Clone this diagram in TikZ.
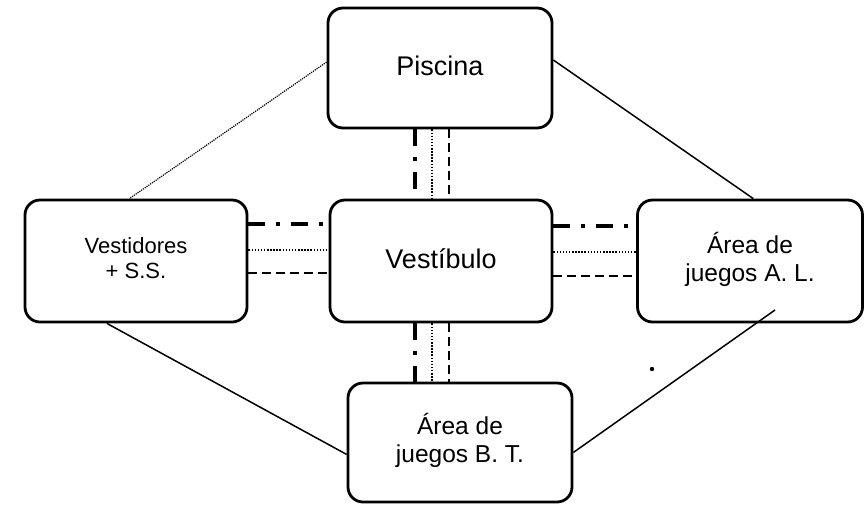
\documentclass[tikz,border=0pt]{standalone}
\usepackage{fontspec}
\setmainfont{Liberation Sans}
\setlength{\tabcolsep}{0pt}
\newcommand{\twolines}[2]{\begin{tabular}{c}#1\\#2\end{tabular}}
\begin{document}
\begin{tikzpicture}[x=1pt,y=-1pt,
  box/.style={draw, line width=2.8pt, rounded corners=15pt, inner sep=0pt, align=center, fill=white},
  bigtxt/.style={font=\fontsize{27}{31}\selectfont},
  midtxt/.style={font=\fontsize{24.5}{28}\selectfont},
  smalltxt/.style={font=\fontsize{22}{25}\selectfont},
  diag/.style={line width=1.5pt},
  fine/.style={line width=1.2pt, densely dotted},
  dashdotc/.style={line width=3.2pt, dash pattern=on 17pt off 11pt on 4pt off 11pt},
  dottedc/.style={line width=1.5pt, dash pattern=on 1.5pt off 1.6pt},
  dashedc/.style={line width=2.5pt, dash pattern=on 9pt off 5pt}
]
\useasboundingbox (0,0) rectangle (866,504);
% boxes
\node[box, bigtxt, minimum width=224pt, minimum height=120pt] (pis) at (440,68) {\raisebox{4pt}{Piscina}};
\node[box, smalltxt, minimum width=222pt, minimum height=122pt] (vst) at (136,261) {\raisebox{8pt}{\twolines{Vestidores}{+ S.S.}}};
\node[box, bigtxt, minimum width=222pt, minimum height=122pt] (ves) at (441,261) {\raisebox{4pt}{Vestíbulo}};
\node[box, midtxt, minimum width=225pt, minimum height=122pt] (al) at (750,261) {\raisebox{-6pt}{\twolines{Área de}{juegos A. L.}}};
\node[box, midtxt, minimum width=224pt, minimum height=119pt] (bt) at (460,442.5) {\raisebox{-4pt}{\twolines{Área de}{juegos B. T.}}};
% diagonals
\draw[fine] (pis.177) -- (vst.96);
\draw[diag] (pis.4) -- (al.87);
\draw[diag] (vst.245) -- (bt.186);
\coordinate (alin) at (775,310);
\draw[diag] (alin) -- (bt.-5);
% vertical connector positions
\coordinate (v1) at (415,0);
\coordinate (v2) at (432,0);
\coordinate (v3) at (449,0);
\draw[dashdotc] (v1 |- pis.south) -- (v1 |- ves.north);
\draw[dottedc] (v2 |- pis.south) -- (v2 |- ves.north);
\draw[dashedc] (v3 |- pis.south) -- (v3 |- ves.north);
\draw[dashdotc] (v1 |- ves.south) -- (v1 |- bt.north);
\draw[dottedc] (v2 |- ves.south) -- (v2 |- bt.north);
\draw[dashedc] (v3 |- ves.south) -- (v3 |- bt.north);
% horizontal connector positions
\coordinate (h1) at (0,224);
\coordinate (h2) at (0,250);
\coordinate (h3) at (0,273);
\coordinate (k1) at (0,226);
\coordinate (k2) at (0,252);
\coordinate (k3) at (0,276);
\draw[dashdotc] (vst.east |- h1) -- (ves.west |- h1);
\draw[dottedc] (vst.east |- h2) -- (ves.west |- h2);
\draw[dashedc] (vst.east |- h3) -- (ves.west |- h3);
\draw[dashdotc] (ves.east |- k1) -- (al.west |- k1);
\draw[dottedc] (ves.east |- k2) -- (al.west |- k2);
\draw[dashedc] (ves.east |- k3) -- (al.west |- k3);
% speck
\fill (652,369) circle (2.2pt);
\end{tikzpicture}
\end{document}
